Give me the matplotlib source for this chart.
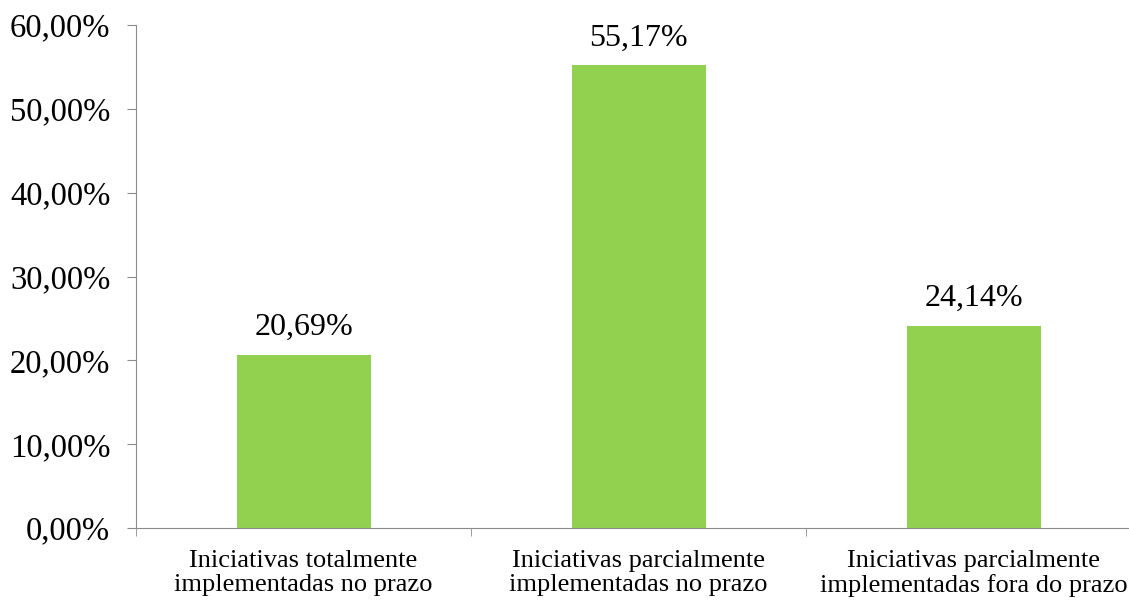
import matplotlib
matplotlib.use("Agg")
import matplotlib.pyplot as plt
from matplotlib.ticker import FuncFormatter
import numpy as np

categorias = ["Iniciativas totalmente\nimplementadas no prazo",
              "Iniciativas parcialmente\nimplementadas no prazo",
              "Iniciativas parcialmente\nimplementadas fora do prazo"]
valores = [20.69, 55.17, 24.14]
yticks = [0, 10, 20, 30, 40, 50, 60]

plt.rcParams['font.family'] = ['Liberation Serif', 'DejaVu Serif']

W, H = 1129, 603
fig = plt.figure(figsize=(W / 100, H / 100), dpi=100)
ax = fig.add_axes([136 / W, 1 - 528 / H, (1141 - 136) / W, (528 - 25) / H])

x = np.arange(len(valores))
ax.bar(x, valores, width=0.4, color="#92D050")
for xi, v in zip(x, valores):
    ax.annotate(f"{v:.2f}%".replace(".", ","), (xi, v), xytext=(0, 9),
                textcoords="offset points", ha="center", va="bottom", fontsize=23)

ax.set_xlim(-0.5, len(valores) - 0.5)
ax.set_ylim(0, 60)
ax.set_yticks(yticks)
ax.yaxis.set_major_formatter(FuncFormatter(lambda v, p: f"{v:.2f}%".replace(".", ",")))
ax.set_xticks(x)
ax.set_xticklabels(categorias, fontsize=19, linespacing=1.1)
ax.set_xticks(np.arange(len(valores) + 1) - 0.5, minor=True)

for s in ["top", "right"]:
    ax.spines[s].set_visible(False)
for s in ["left", "bottom"]:
    ax.spines[s].set_color("#8c8c8c")
ax.tick_params(axis="y", labelsize=23.5, color="#8c8c8c", length=6.5, pad=12)
ax.tick_params(axis="x", which="major", length=0, pad=16)
ax.tick_params(axis="x", which="minor", length=6, color="#8c8c8c")

fig.savefig("out.png", dpi=100)
